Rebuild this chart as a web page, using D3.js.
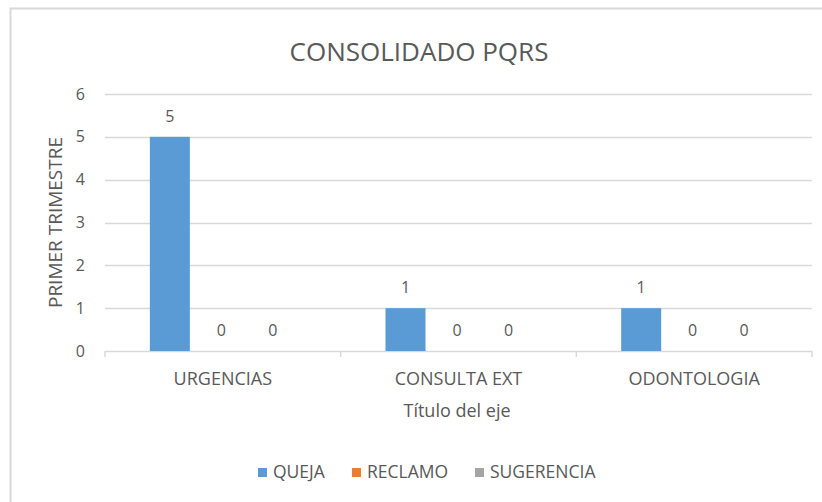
<!DOCTYPE html>
<html><head><meta charset="utf-8">
<script src="https://cdn.jsdelivr.net/npm/d3@7"></script>
<style>body{margin:0;background:#fff}svg{display:block}text{font-family:"Open Sans",sans-serif;fill:#595959}</style>
</head><body><svg id="c" width="822" height="502"></svg>
<script>
const categories = ["URGENCIAS", "CONSULTA EXT", "ODONTOLOGIA"];
const seriesNames = ["QUEJA", "RECLAMO", "SUGERENCIA"];
const queja = [5, 1, 1];
const reclamo = [0, 0, 0];
const sugerencia = [0, 0, 0];
const yTicks = [0, 1, 2, 3, 4, 5, 6];
const colors = ["#5B9BD5", "#ED7D31", "#A5A5A5"];
const title = "CONSOLIDADO PQRS";
const yTitle = "PRIMER TRIMESTRE";
const xTitle = "Título del eje";

(function () {
const values = [queja, reclamo, sugerencia];
const svg = d3.select("#c");
svg.append("path").attr("d", "M10.5,502 L10.5,8.5 L822,8.5").attr("fill", "none").attr("stroke", "#d9d9d9").attr("stroke-width", 2);

const pl = 105, pr = 812, pt = 94, pb = 351;
const x = d3.scaleBand().domain(categories).range([pl, pr]);
const inner = d3.scaleBand().domain(seriesNames).range([-73, 70]).paddingInner(0.223);
const y = d3.scaleLinear().domain([0, 6]).range([pb, pt]);

svg.append("g").selectAll("line").data(yTicks.filter(t => t > 0)).join("line")
  .attr("x1", pl).attr("x2", pr).attr("y1", d => Math.round(y(d)) + 0.5).attr("y2", d => Math.round(y(d)) + 0.5)
  .attr("stroke", "#d9d9d9").attr("stroke-width", 1.5);

const ya = svg.append("g").attr("transform", `translate(${pl},0)`)
  .call(d3.axisLeft(y).tickValues(yTicks).tickSize(0).tickPadding(20).tickFormat(d3.format("d")));
ya.select(".domain").remove();
ya.selectAll("text").attr("font-size", 16).style("font-family", "'Open Sans',sans-serif").attr("fill", "#595959");

const xa = svg.append("g").attr("transform", `translate(0,${pb})`)
  .call(d3.axisBottom(x).tickSize(0).tickPadding(21));
xa.select(".domain").remove();
xa.selectAll("text").attr("font-size", 18).style("font-family", "'Open Sans',sans-serif").attr("fill", "#595959");
svg.append("line").attr("x1", pl).attr("x2", pr).attr("y1", pb + 0.5).attr("y2", pb + 0.5).attr("stroke", "#d9d9d9").attr("stroke-width", 1.5);
const bounds = categories.map(c => x(c)).concat([pr]);
svg.append("g").selectAll("line").data(bounds).join("line")
  .attr("x1", d => d).attr("x2", d => d).attr("y1", pb).attr("y2", pb + 6)
  .attr("stroke", "#d9d9d9").attr("stroke-width", 1.5);

const groups = svg.append("g").selectAll("g").data(seriesNames).join("g").attr("fill", (d, i) => colors[i]);
groups.each(function (s, si) {
  const g = d3.select(this);
  const data = categories.map((c, ci) => ({ c, v: values[si][ci] }));
  g.selectAll("rect").data(data).join("rect")
    .attr("x", d => x(d.c) + x.bandwidth() / 2 + inner(s))
    .attr("width", inner.bandwidth())
    .attr("y", d => y(d.v)).attr("height", d => y(0) - y(d.v));
  svg.append("g").selectAll("text").data(data).join("text")
    .attr("x", d => x(d.c) + x.bandwidth() / 2 + inner(s) + inner.bandwidth() / 2)
    .attr("y", d => y(d.v) - 15)
    .attr("text-anchor", "middle").attr("font-size", 16).text(d => d.v);
});

svg.append("text").attr("x", 419).attr("y", 61).attr("text-anchor", "middle").attr("font-size", 26).text(title);
svg.append("text").attr("transform", `translate(62,${(pt + pb) / 2}) rotate(-90)`).attr("text-anchor", "middle").attr("font-size", 19).text(yTitle);
svg.append("text").attr("x", 457).attr("y", 417).attr("text-anchor", "middle").attr("font-size", 18).text(xTitle);

const legX = [258, 352, 475];
const lg = svg.append("g").selectAll("g").data(seriesNames).join("g").attr("transform", (d, i) => `translate(${legX[i]},478)`);
lg.append("rect").attr("x", 0).attr("y", -10).attr("width", 9).attr("height", 9).attr("fill", (d, i) => colors[i]);
lg.append("text").attr("x", 15).attr("y", 0).attr("font-size", 17.5).text(d => d);
})();
</script></body></html>
